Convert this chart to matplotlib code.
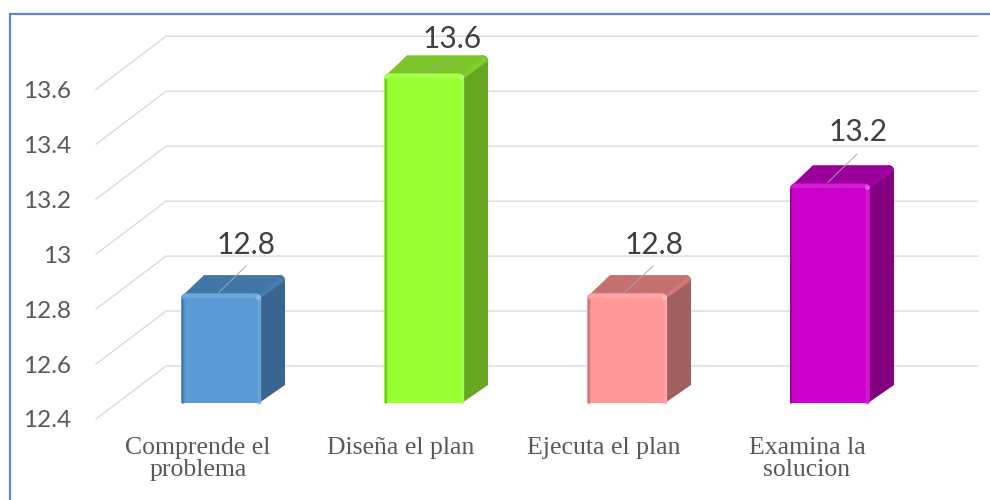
import matplotlib
matplotlib.use("Agg")
import matplotlib.pyplot as plt
from matplotlib.path import Path
from matplotlib.patches import PathPatch
from matplotlib.lines import Line2D
from matplotlib.transforms import IdentityTransform
from matplotlib.colors import to_rgb

categories = ["Comprende el\nproblema", "Diseña el plan", "Ejecuta el plan", "Examina la\nsolucion"]
values = [12.8, 13.6, 12.8, 13.2]
value_labels = ["12.8", "13.6", "12.8", "13.2"]
y_ticks = [12.4, 12.6, 12.8, 13.0, 13.2, 13.4, 13.6]
y_tick_labels = ["12.4", "12.6", "12.8", "13", "13.2", "13.4", "13.6"]
front_colors = ["#5B9BD5", "#99FF33", "#FF9999", "#CC00CC"]
top_colors = ["#4177A6", "#7CC52A", "#C47070", "#990099"]
side_colors = ["#3A6591", "#66A620", "#A06060", "#800080"]
label_offsets = [(25, 48), (28, 34), (27, 48), (28, 51)]
leader_ends = [(27, 26), (30, 12), (28, 26), (29, 28)]

W, H = 990, 500
fig = plt.figure(figsize=(W / 100, H / 100), dpi=100, facecolor="white")
L, R, B, T = 96, 978, H - 419, H - 89.3
ax = fig.add_axes([L / W, B / H, (R - L) / W, (T - B) / H])
ax.patch.set_alpha(0)
ax.set_xlim((L - 198) / 203, (R - 198) / 203)
ax.set_ylim(12.4, 13.6)
for s in ax.spines.values():
    s.set_visible(False)
ax.set_yticks(y_ticks, y_tick_labels, fontfamily="Lato", fontsize=17.5, color="#595959")
ax.set_xticks(range(len(categories)), categories, fontfamily="Liberation Serif",
              fontsize=18.5, color="#595959", linespacing=1.0)
ax.tick_params(axis="y", length=0, pad=18)
ax.tick_params(axis="x", length=0, pad=13)

ID = IdentityTransform()
GRID = "#DADADA"
for v in y_ticks:
    x0, y0 = ax.transData.transform((ax.get_xlim()[0], v))
    ax.add_line(Line2D([x0, x0 + 70, R], [y0, y0 + 53, y0 + 53], color=GRID, lw=1.0,
                       transform=ID, clip_on=False, zorder=1))


def patch(verts, codes, color, z):
    ax.add_patch(PathPatch(Path(verts, codes), facecolor=color, edgecolor="none",
                           transform=ID, clip_on=False, zorder=z))


def shade(c, f):
    r, g, b = to_rgb(c)
    if f >= 1:
        t = f - 1
        return (r + (1 - r) * t, g + (1 - g) * t, b + (1 - b) * t)
    return (r * f, g * f, b * f)


M, LN, C3, CL = Path.MOVETO, Path.LINETO, Path.CURVE3, Path.CLOSEPOLY
half, dx, dy, ox, oy, rad = 40, 24, 18, 23, 16, 6

for i, v in enumerate(values):
    cx, top = ax.transData.transform((i, v))
    _, base = ax.transData.transform((i, y_ticks[0]))
    cx += ox
    top += oy
    base += oy
    x0, x1 = cx - half, cx + half
    fc, tc, sc = front_colors[i], top_colors[i], side_colors[i]
    # side face
    patch([(x1 - 2, base), (x1 - 2, top), (x1 + dx - rad, top + dy), (x1 + dx, top + dy),
           (x1 + dx, top + dy - rad), (x1 + dx, base + dy), (x1 - 2, base), (x1 - 2, base)],
          [M, LN, LN, C3, C3, LN, LN, CL], sc, 3)
    # top face
    patch([(x0 + 1, top - 3), (x0 + dx - 1, top + dy), (x1 + dx - rad, top + dy), (x1 + dx, top + dy),
           (x1 + dx, top + dy - rad), (x1 + 1, top - 4), (x0 + 1, top - 4), (x0 + 1, top - 3)],
          [M, LN, LN, C3, C3, LN, LN, CL], tc, 3)
    # light ridge along the top-right edge
    ax.add_line(Line2D([x1 + 1, x1 + dx - 3], [top - 2, top + dy - 4], color=shade(fc, 0.86), lw=2.4,
                       alpha=0.55, transform=ID, clip_on=False, zorder=3.5, solid_capstyle="round"))
    # front face
    patch([(x0, base), (x0, top - rad), (x0, top), (x0 + rad, top), (x1 - rad, top), (x1, top),
           (x1, top - rad), (x1, base + 2), (x1, base), (x1 - 2, base), (x0, base), (x0, base)],
          [M, LN, C3, C3, LN, C3, C3, LN, C3, C3, LN, CL], fc, 4)
    # bevel shading on the front face
    for k, a in enumerate((0.55, 0.3, 0.14)):
        ax.add_line(Line2D([x0 + 0.5 + k] * 2, [base, top - 6], color=shade(fc, 0.55), alpha=a, lw=0.75,
                           transform=ID, clip_on=False, zorder=4.2))
    ax.add_line(Line2D([x0 + 4, x1 - 4], [top - 3, top - 3], color=shade(fc, 1.18), lw=3, alpha=0.7,
                       transform=ID, clip_on=False, zorder=4.3))
    ax.add_line(Line2D([x1 - 2.5, x1 - 2.5], [base + 1, top - 4], color=shade(fc, 1.14), lw=2.5, alpha=0.7,
                       transform=ID, clip_on=False, zorder=4.3))
    ax.add_line(Line2D([x1 - 3], [top - 4], marker="o", ms=3.5, mew=0, color=shade(fc, 1.35),
                       transform=ID, clip_on=False, zorder=4.4))
    # leader line
    lx, ly = cx - 2, top + 1
    ex, ey = leader_ends[i]
    ax.add_line(Line2D([lx, lx + ex], [ly, ly + ey], color="#A6A6A6", lw=0.8, alpha=0.85,
                       transform=ID, clip_on=False, zorder=5))
    # data label
    lo = label_offsets[i]
    ax.text(cx + lo[0], top + lo[1], value_labels[i], transform=ID, ha="center", va="center",
            fontfamily="Lato", fontsize=21.5, color="#404040", zorder=6, clip_on=False)

# outer frame
FRAME = "#5F8AC4"
fig.add_artist(Line2D([9.5 / W, 9.5 / W, 1], [0, (H - 14) / H, (H - 14) / H], color=FRAME, lw=1.6,
                      transform=fig.transFigure, solid_joinstyle="miter"))

fig.savefig("out.png", dpi=100, facecolor="white")
